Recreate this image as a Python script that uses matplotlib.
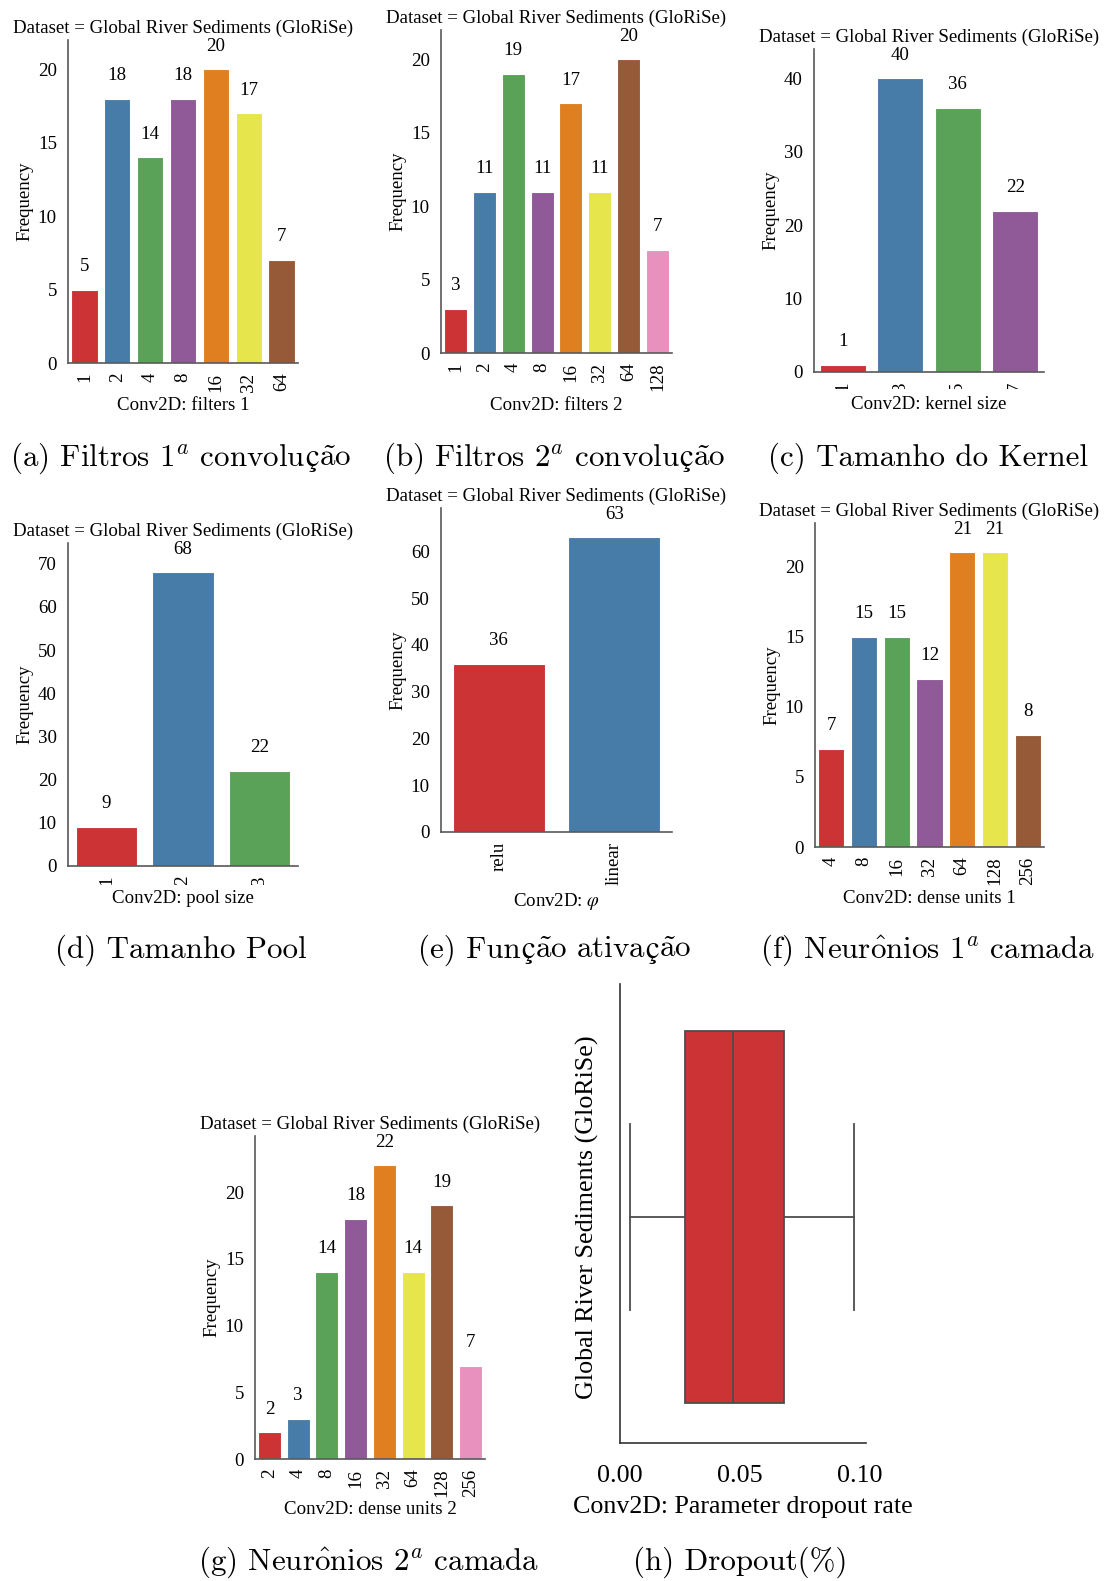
import colorsys
import matplotlib
matplotlib.use("Agg")
import matplotlib.pyplot as plt
from matplotlib.colors import to_rgb
from matplotlib.transforms import Bbox, TransformedBbox
from matplotlib.offsetbox import TextArea, HPacker, AnnotationBbox

# ─────────────────────────────────────────────
# Data
# ─────────────────────────────────────────────
FILTERS1_CATS   = ["1", "2", "4", "8", "16", "32", "64"]
FILTERS1_COUNTS = [5, 18, 14, 18, 20, 17, 7]

FILTERS2_CATS   = ["1", "2", "4", "8", "16", "32", "64", "128"]
FILTERS2_COUNTS = [3, 11, 19, 11, 17, 11, 20, 7]

KERNEL_CATS   = ["1", "3", "5", "7"]
KERNEL_COUNTS = [1, 40, 36, 22]

POOL_CATS   = ["1", "2", "3"]
POOL_COUNTS = [9, 68, 22]

ACT_CATS   = ["relu", "linear"]
ACT_COUNTS = [36, 63]

DENSE1_CATS   = ["4", "8", "16", "32", "64", "128", "256"]
DENSE1_COUNTS = [7, 15, 15, 12, 21, 21, 8]

DENSE2_CATS   = ["2", "4", "8", "16", "32", "64", "128", "256"]
DENSE2_COUNTS = [2, 3, 14, 18, 22, 14, 19, 7]

DROPOUT_LABEL  = "Global River Sediments (GloRiSe)"
DROPOUT_WHISLO = 0.004
DROPOUT_Q1     = 0.027
DROPOUT_MED    = 0.047
DROPOUT_Q3     = 0.0685
DROPOUT_WHISHI = 0.0975
DROPOUT_TICKS  = [0.00, 0.05, 0.10]

TITLE = "Dataset = Global River Sediments (GloRiSe)"

# ─────────────────────────────────────────────
# Style
# ─────────────────────────────────────────────
W, H = 1112, 1581
FS = 13.6
BOX_FS = 18.7
CAP_FS = 22.3
SERIF = "Liberation Serif"
CM = "cmr10"             # Computer Modern, shipped with matplotlib
CEDILLA = "STIXGeneral"  # cmr10 has no usable ç glyph
SPINE = "0.35"

SET1 = ["#e41a1c", "#377eb8", "#4daf4a", "#984ea3",
        "#ff7f00", "#ffff33", "#a65628", "#f781bf"]


def desaturate(color, prop=0.75):
    h, l, s = colorsys.rgb_to_hls(*to_rgb(color))
    return colorsys.hls_to_rgb(h, l, s * prop)


PALETTE = [desaturate(c) for c in SET1]

plt.rcParams["font.family"] = SERIF
plt.rcParams["axes.unicode_minus"] = False

fig = plt.figure(figsize=(W / 100, H / 100), dpi=100)


def px_axes(left, top, right, bottom):
    return fig.add_axes([left / W, 1 - bottom / H, (right - left) / W, (bottom - top) / H])


def clip_xticklabels(ax, top, bottom, clip_px):
    y0 = -clip_px / (bottom - top)
    box = TransformedBbox(Bbox([[-1, y0], [2, 3]]), ax.transAxes)
    for lab in ax.get_xticklabels():
        lab.set_clip_box(box)
        lab.set_clip_on(True)


def bar_panel(box, cats, counts, yticks, xlabel, label_gap, clip_px=None,
              math_family=None):
    left, top, right, bottom = box
    ax = px_axes(left, top, right, bottom)
    x = range(len(cats))
    ax.bar(x, counts, width=0.8, color=PALETTE[:len(cats)],
           edgecolor="white", linewidth=0.8)
    for xi, v in zip(x, counts):
        ax.annotate(str(v), (xi, v), xytext=(0, 13.5), textcoords="offset points",
                    ha="center", va="baseline", fontsize=FS)
    ax.set_xlim(-0.5, len(cats) - 0.5)
    ax.set_ylim(0, max(counts) * 1.1)
    ax.set_yticks(yticks)
    ax.set_xticks(list(x))
    ax.set_xticklabels(cats, rotation=90)
    ax.tick_params(length=0, labelsize=FS)
    ax.tick_params(axis="y", pad=8)
    ax.tick_params(axis="x", pad=7)
    for s in ["top", "right"]:
        ax.spines[s].set_visible(False)
    for s in ["left", "bottom"]:
        ax.spines[s].set_color(SPINE)
        ax.spines[s].set_linewidth(1.2)
    ax.set_title(TITLE, fontsize=FS, pad=5)
    ax.set_ylabel("Frequency", fontsize=FS)
    ax.yaxis.set_label_coords(-35 / (right - left), 0.5)
    kw = {}
    if math_family:
        kw["math_fontfamily"] = math_family
    ax.set_xlabel(xlabel, fontsize=FS, **kw)
    ax.xaxis.set_label_coords(0.5, -label_gap / (bottom - top))
    if clip_px is not None:
        clip_xticklabels(ax, top, bottom, clip_px)
    return ax


def caption(xc, yc, parts):
    """parts: list of (text, family) pieces laid side by side."""
    areas = [TextArea(t, textprops=dict(fontsize=CAP_FS, family=f, math_fontfamily="cm"))
             for t, f in parts]
    pack = HPacker(children=areas, align="baseline", pad=0, sep=0)
    ab = AnnotationBbox(pack, (xc / W, 1 - yc / H), xycoords="figure fraction",
                        frameon=False, box_alignment=(0.5, 0.5), pad=0)
    fig.add_artist(ab)


# ─────────────────────────────────────────────
# Bar panels
# ─────────────────────────────────────────────
bar_panel((68, 40, 298, 363), FILTERS1_CATS, FILTERS1_COUNTS,
          [0, 5, 10, 15, 20], "Conv2D: filters 1", 34)
bar_panel((441, 30, 672, 353), FILTERS2_CATS, FILTERS2_COUNTS,
          [0, 5, 10, 15, 20], "Conv2D: filters 2", 44)
bar_panel((814, 49, 1044, 372), KERNEL_CATS, KERNEL_COUNTS,
          [0, 10, 20, 30, 40], "Conv2D: kernel size", 24, clip_px=17)
bar_panel((68, 543, 298, 866), POOL_CATS, POOL_COUNTS,
          [0, 10, 20, 30, 40, 50, 60, 70], "Conv2D: pool size", 24, clip_px=19)
bar_panel((441, 508, 672, 832), ACT_CATS, ACT_COUNTS,
          [0, 10, 20, 30, 40, 50, 60], r"Conv2D: $\varphi$", 59, math_family="stix")
bar_panel((815, 523, 1044, 847), DENSE1_CATS, DENSE1_COUNTS,
          [0, 5, 10, 15, 20], "Conv2D: dense units 1", 43)
bar_panel((255, 1136, 485, 1459), DENSE2_CATS, DENSE2_COUNTS,
          [0, 5, 10, 15, 20], "Conv2D: dense units 2", 42)

# ─────────────────────────────────────────────
# Dropout box plot
# ─────────────────────────────────────────────
ax = px_axes(620, 984, 866, 1443)
stats = [{
    "whislo": DROPOUT_WHISLO, "q1": DROPOUT_Q1, "med": DROPOUT_MED,
    "q3": DROPOUT_Q3, "whishi": DROPOUT_WHISHI, "fliers": [],
}]
line_kw = dict(color="0.3", linewidth=1.3)
ax.bxp(stats, positions=[0], widths=0.8, capwidths=0.4, orientation="horizontal",
       patch_artist=True, showfliers=False,
       boxprops=dict(facecolor=PALETTE[0], edgecolor="0.3", linewidth=1.3),
       medianprops=line_kw, whiskerprops=line_kw, capprops=line_kw)
ax.set_ylim(0.485, -0.5)
ax.set_xlim(0, 0.1025)
ax.set_xticks(DROPOUT_TICKS)
ax.set_xticklabels([f"{t:.2f}" for t in DROPOUT_TICKS])
ax.set_yticks([0])
ax.set_yticklabels([DROPOUT_LABEL], rotation=90, va="center")
ax.tick_params(length=0, labelsize=BOX_FS)
ax.tick_params(axis="x", pad=16)
ax.tick_params(axis="y", pad=15)
for s in ["top", "right"]:
    ax.spines[s].set_visible(False)
for s in ["left", "bottom"]:
    ax.spines[s].set_color("0.2")
    ax.spines[s].set_linewidth(1.2)
ax.set_xlabel("Conv2D: Parameter dropout rate", fontsize=BOX_FS, labelpad=6)

# ─────────────────────────────────────────────
# Sub-captions
# ─────────────────────────────────────────────
A_TILDE = r"$\tilde{\mathrm{a}}$"
caption(181, 458, [(r"(a) Filtros 1$^a$ convolu", CM), ("ç", CEDILLA), (A_TILDE + "o", CM)])
caption(554, 458, [(r"(b) Filtros 2$^a$ convolu", CM), ("ç", CEDILLA), (A_TILDE + "o", CM)])
caption(928, 458, [("(c) Tamanho do Kernel", CM)])
caption(181, 950, [("(d) Tamanho Pool", CM)])
caption(555, 950, [("(e) Fun", CM), ("ç", CEDILLA), (A_TILDE + "o ativa", CM),
                   ("ç", CEDILLA), (A_TILDE + "o", CM)])
caption(927, 950, [(r"(f) Neur$\hat{\mathrm{o}}$nios 1$^a$ camada", CM)])
caption(368, 1562, [(r"(g) Neur$\hat{\mathrm{o}}$nios 2$^a$ camada", CM)])
caption(740, 1562, [("(h) Dropout(%)", CM)])

fig.savefig("out.png", dpi=100)
